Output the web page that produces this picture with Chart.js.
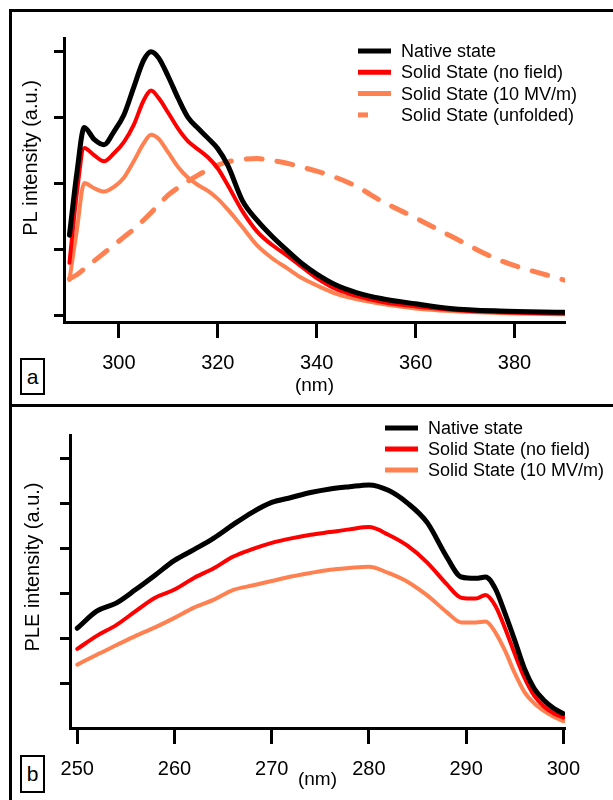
<!DOCTYPE html>
<html>
<head>
<meta charset="utf-8">
<title>PL / PLE spectra</title>
<script src="https://cdn.jsdelivr.net/npm/chart.js@4.4.1/dist/chart.umd.min.js"></script>
<style>
  body { margin: 0; width: 613px; height: 800px; overflow: hidden; position: relative; background: #fff;
         font-family: "Liberation Sans", Arial, sans-serif; }
  .panel { position: absolute; left: 9px; width: 640px; border: 3px solid #000; box-sizing: border-box; }
  #panelA { top: 9px; height: 398px; }
  #panelB { top: 404px; height: 420px; }
  .tag { position: absolute; left: 20px; width: 25px; border: 2px solid #000; box-sizing: border-box;
         font-size: 21px; text-align: center; background: #fff; }
  #tagA { top: 358px; height: 37px; line-height: 33px; }
  #tagB { top: 755px; height: 38px; line-height: 34px; }
  canvas { position: absolute; left: 0; }
  #plChart { top: 0; }
  #pleChart { top: 405px; }
</style>
</head>
<body>
<div class="panel" id="panelA"></div>
<div class="panel" id="panelB"></div>
<canvas id="plChart" width="613" height="405"></canvas>
<canvas id="pleChart" width="613" height="395"></canvas>
<div class="tag" id="tagA">a</div>
<div class="tag" id="tagB">b</div>
<script>
// --- panel a : PL emission (nm) ---
const plWavelength = [290, 291.5, 293, 295, 297, 299, 301, 303, 305, 306.5, 308, 310, 312, 314, 316, 318, 320,
                      322, 325, 328, 331, 334, 337, 340, 344, 348, 353, 360, 367, 377, 390];
const plNative   = [1.21, 2.15, 2.84, 2.66, 2.58, 2.78, 3.03, 3.45, 3.86, 3.99, 3.90, 3.61, 3.28, 2.99, 2.83, 2.68, 2.52,
                    2.27, 1.73, 1.43, 1.19, 0.98, 0.78, 0.62, 0.45, 0.34, 0.25, 0.17, 0.10, 0.06, 0.04];
const plNoField  = [0.79, 1.85, 2.53, 2.42, 2.33, 2.45, 2.62, 2.88, 3.25, 3.40, 3.29, 3.06, 2.82, 2.63, 2.51, 2.39, 2.22,
                    1.97, 1.57, 1.26, 1.06, 0.90, 0.73, 0.56, 0.39, 0.29, 0.20, 0.13, 0.08, 0.04, 0.02];
const plField    = [0.53, 1.29, 2.00, 1.92, 1.87, 1.94, 2.08, 2.33, 2.60, 2.73, 2.67, 2.46, 2.24, 2.08, 1.97, 1.88, 1.76,
                    1.60, 1.33, 1.05, 0.86, 0.71, 0.56, 0.45, 0.32, 0.24, 0.17, 0.10, 0.06, 0.03, 0.01];
const plUnfolded = [0.55, 0.61, 0.70, 0.82, 0.94, 1.06, 1.18, 1.30, 1.44, 1.55, 1.67, 1.82, 1.93, 2.03, 2.12, 2.20, 2.27,
                    2.32, 2.36, 2.37, 2.34, 2.30, 2.24, 2.18, 2.08, 1.95, 1.73, 1.47, 1.20, 0.83, 0.53];
const plXTicks = [300, 320, 340, 360, 380];
const plYTicks = [0, 1, 2, 3, 4];

// --- panel b : PLE excitation (nm) ---
const pleWavelength = [250, 252, 254, 256, 258, 260, 262, 264, 266, 268, 270, 272, 274, 276, 278, 280, 282, 284, 286, 288,
                       289.5, 291, 292, 293, 294, 295, 296, 297, 298, 299, 300];
const pleNative  = [2.22, 2.60, 2.78, 3.08, 3.40, 3.73, 3.97, 4.22, 4.52, 4.80, 5.02, 5.13, 5.24, 5.32, 5.37, 5.41, 5.29, 5.00, 4.57, 3.81,
                    3.36, 3.33, 3.36, 3.10, 2.55, 1.95, 1.32, 0.88, 0.62, 0.44, 0.32];
const pleNoField = [1.76, 2.05, 2.29, 2.60, 2.90, 3.08, 3.34, 3.55, 3.81, 3.98, 4.12, 4.22, 4.30, 4.36, 4.42, 4.47, 4.30, 4.05, 3.68, 3.20,
                    2.90, 2.88, 2.96, 2.72, 2.22, 1.65, 1.12, 0.72, 0.48, 0.33, 0.23];
const pleField   = [1.41, 1.63, 1.84, 2.05, 2.24, 2.45, 2.68, 2.85, 3.07, 3.17, 3.27, 3.37, 3.45, 3.52, 3.56, 3.59, 3.45, 3.25, 2.95, 2.58,
                    2.35, 2.35, 2.37, 2.13, 1.72, 1.22, 0.80, 0.55, 0.38, 0.25, 0.15];
const pleXTicks = [250, 260, 270, 280, 290, 300];
const pleYTicks = [1, 2, 3, 4, 5, 6];

const FONT = '"Liberation Sans", Arial, sans-serif';
Chart.defaults.font.family = FONT;
Chart.defaults.color = '#000';

function points(xs, ys) {
    return xs.map((x, i) => ({ x: x, y: ys[i] }));
}

// y title + legend drawn at fixed spots, like the original figure
const panelDecor = {
    id: 'panelDecor',
    afterDraw(chart, args, opts) {
        const ctx = chart.ctx;
        ctx.save();
        ctx.fillStyle = '#000';
        ctx.font = '20px ' + FONT;
        ctx.textAlign = 'center';
        ctx.textBaseline = 'middle';
        ctx.translate(opts.titleX, opts.titleY);
        ctx.rotate(-Math.PI / 2);
        ctx.fillText(opts.title, 0, 0);
        ctx.restore();

        ctx.save();
        ctx.font = '18px ' + FONT;
        ctx.textBaseline = 'middle';
        ctx.fillStyle = '#000';
        chart.data.datasets.forEach((ds, i) => {
            const y = opts.legendY + i * opts.legendRow;
            ctx.strokeStyle = ds.borderColor;
            ctx.lineWidth = 5;
            ctx.setLineDash(ds.borderDash ? [10, 40] : []);
            ctx.beginPath();
            ctx.moveTo(opts.legendX, y);
            ctx.lineTo(opts.legendX + 33, y);
            ctx.stroke();
            ctx.setLineDash([]);
            ctx.fillText(ds.label, opts.legendX + 43, y + 1);
        });
        ctx.restore();
    }
};

function makeChart(id, datasets, xr, yr, xTicks, yTicks, box, decor) {
    return new Chart(document.getElementById(id), {
        type: 'line',
        data: { datasets: datasets },
        plugins: [panelDecor],
        options: {
            responsive: false,
            animation: false,
            devicePixelRatio: 1,
            layout: { padding: { top: box.top, right: box.right, left: 0, bottom: 0 } },
            elements: {
                point: { radius: 0 },
                line: { cubicInterpolationMode: 'monotone', borderCapStyle: 'round', borderJoinStyle: 'round' }
            },
            plugins: { legend: { display: false }, tooltip: { enabled: false }, panelDecor: decor },
            scales: {
                x: {
                    type: 'linear', min: xr[0], max: xr[1],
                    afterBuildTicks: s => { s.ticks = xTicks.map(v => ({ value: v })); },
                    afterFit: s => { s.height = box.xHeight; },
                    grid: { drawOnChartArea: false, tickLength: 16, tickWidth: 3, tickColor: '#000' },
                    border: { display: true, color: '#000', width: 3 },
                    ticks: { font: { size: 20 }, padding: 13, maxRotation: 0 },
                    title: { display: true, text: '(nm)', font: { size: 19 }, padding: { top: 0, bottom: box.titlePad } }
                },
                y: {
                    min: yr[0], max: yr[1],
                    afterBuildTicks: s => { s.ticks = yTicks.map(v => ({ value: v })); },
                    afterFit: s => { s.width = box.yWidth; },
                    grid: { drawOnChartArea: false, tickLength: 10, tickWidth: 3, tickColor: '#000' },
                    border: { display: true, color: '#000', width: 3 },
                    ticks: { display: false }
                }
            }
        }
    });
}

makeChart('plChart', [
    { label: 'Native state', data: points(plWavelength, plNative), borderColor: '#000000', borderWidth: 5 },
    { label: 'Solid State (no field)', data: points(plWavelength, plNoField), borderColor: '#ff0000', borderWidth: 4 },
    { label: 'Solid State (10 MV/m)', data: points(plWavelength, plField), borderColor: '#ff8050', borderWidth: 4 },
    { label: 'Solid State (unfolded)', data: points(plWavelength, plUnfolded), borderColor: '#ff8050', borderWidth: 5,
      borderDash: [16, 15] }
], [288.9, 390.2], [-0.106, 4.197], plXTicks, plYTicks,
   { top: 38, right: 48, xHeight: 83, yWidth: 64, titlePad: 8 },
   { title: 'PL intensity (a.u.)', titleX: 31, titleY: 158, legendX: 358, legendY: 51, legendRow: 21.3 });

makeChart('pleChart', [
    { label: 'Native state', data: points(pleWavelength, pleNative), borderColor: '#000000', borderWidth: 5 },
    { label: 'Solid State (no field)', data: points(pleWavelength, pleNoField), borderColor: '#ff0000', borderWidth: 4 },
    { label: 'Solid State (10 MV/m)', data: points(pleWavelength, pleField), borderColor: '#ff8050', borderWidth: 4 }
], [249.25, 300.17], [0, 6.52], pleXTicks, pleYTicks,
   { top: 30, right: 48, xHeight: 72, yWidth: 70, titlePad: 9 },
   { title: 'PLE intensity (a.u.)', titleX: 33, titleY: 162, legendX: 385, legendY: 23, legendRow: 21 });
</script>
</body>
</html>
